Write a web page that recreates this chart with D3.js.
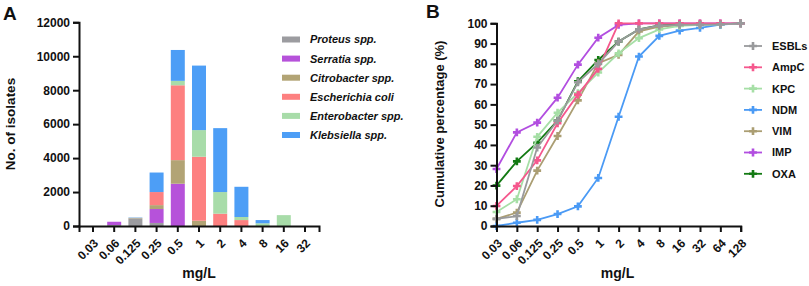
<!DOCTYPE html>
<html><head><meta charset="utf-8">
<script src="https://cdn.jsdelivr.net/npm/d3@7/dist/d3.min.js"></script>
<style>
body{margin:0;background:#fff}
svg{display:block}
text{font-family:"Liberation Sans",Arial,Helvetica,sans-serif;font-weight:bold;fill:#111}
</style>
</head><body>
<svg id="c" width="809" height="286"></svg>
<script>
// ---------- Panel A data ----------
const micA = ["0.03","0.06","0.125","0.25","0.5","1","2","4","8","16","32"];
const speciesNames = ["Proteus spp.","Serratia spp.","Citrobacter spp.","Escherichia coli","Enterobacter spp.","Klebsiella spp."];
const speciesColors = ["#9c9ca0","#b652da","#b2a475","#fd8080","#a8dca9","#4d9ef6"];
const proteus     = [0, 60, 450, 180,    0,    0,    0,    0,   0,   0, 0];
const serratia    = [0,190,   0, 820, 2490,    0,    0,    0,   0,   0, 0];
const citrobacter = [0,  0,  30, 230, 1390,  310,    0,    0,   0,   0, 0];
const ecoli       = [0,  0,   0, 770, 4410, 3770,  725,  350,   0,   0, 0];
const enterobacter= [0,  0,   0,   0,  260, 1570, 1275,  180, 160, 640, 0];
const klebsiella  = [0,  0,  20,1150, 1820, 3800, 3765, 1780, 190,   0, 0];
const yTicksA = [0,2000,4000,6000,8000,10000,12000];

// ---------- Panel B data ----------
const micB = ["0.03","0.06","0.125","0.25","0.5","1","2","4","8","16","32","64","128"];
const groupNames = ["ESBLs","AmpC","KPC","NDM","VIM","IMP","OXA"];
const groupColors = ["#999a9c","#f5588d","#a6dfa6","#4a9af5","#ab9e73","#b24ee0","#137a13"];
const esbls = [3.5, 4.9, 38.7, 52.0, 70.9, 80.0, 91.0, 97.0, 98.8, 99.2, 99.3, 99.5, 100];
const ampc  = [9.9, 19.7, 32.4, 50.7, 64.8, 77.5, 100, 100, 100, 100, 100, 100, 100];
const kpc   = [6.9, 13.2, 44.0, 55.9, 65.5, 75.7, 85.2, 92.7, 97.0, 98.7, 99.2, 99.5, 100];
const ndm   = [0.0, 1.6, 3.0, 5.9, 9.7, 23.7, 53.9, 83.6, 93.8, 96.4, 97.7, 99.3, 100];
const vim   = [3.5, 6.6, 27.3, 44.4, 62.0, 80.3, 84.4, 96.0, 98.4, 99.0, 99.5, 99.5, 100];
const imp   = [28.1, 46.2, 51.0, 63.3, 79.6, 92.9, 99.2, 100, 100, 100, 100, 100, 100];
const oxa   = [19.9, 31.9, 41.1, 52.0, 71.4, 81.9, 91.0, 97.0, 99.0, 99.5, 99.5, 99.5, 100];
const yTicksB = [0,10,20,30,40,50,60,70,80,90,100];

const svg = d3.select("#c");

function styleAxis(g){
  g.select(".domain").attr("stroke","#111").attr("stroke-width",2);
  g.selectAll(".tick line").attr("stroke","#111").attr("stroke-width",2);
  g.selectAll(".tick text").style("font-size","12px").style("font-weight","bold").attr("fill","#111");
}
function rotateLabels(g){
  g.selectAll(".tick text").attr("text-anchor","end")
    .attr("x",0).attr("y",0).attr("dy","0.35em").attr("dx",0)
    .attr("transform","translate(3,15) rotate(-45)");
}

// ================= Panel A =================
const seriesA = [proteus, serratia, citrobacter, ecoli, enterobacter, klebsiella];
const rowsA = micA.map((m,i)=>{const o={mic:m}; speciesNames.forEach((s,k)=>o[s]=seriesA[k][i]); return o;});
const stackA = d3.stack().keys(speciesNames)(rowsA);

const xA = d3.scaleBand().domain(micA).range([79,319]).paddingInner(0.34).paddingOuter(0.33);
const yA = d3.scaleLinear().domain([0,12000]).range([226,22.3]);

const gA = svg.append("g");
gA.selectAll("g.layer").data(stackA).join("g").attr("class","layer")
  .attr("fill",(d,i)=>speciesColors[i])
  .selectAll("rect").data(d=>d).join("rect")
  .attr("x",d=>xA(d.data.mic))
  .attr("width",xA.bandwidth())
  .attr("y",d=>yA(d[1]))
  .attr("height",d=>Math.max(0,yA(d[0])-yA(d[1])));

const axYA = gA.append("g").attr("transform","translate(79,0)")
  .call(d3.axisLeft(yA).tickValues(yTicksA).tickFormat(d3.format("d")).tickSizeOuter(0).tickSize(6).tickPadding(3));
styleAxis(axYA);
const axXA = gA.append("g").attr("transform","translate(0,226)")
  .call(d3.axisBottom(xA).tickSizeOuter(0).tickSize(6));
styleAxis(axXA);
rotateLabels(axXA);

svg.append("text").attr("x",3).attr("y",20).style("font-size","19px").text("A");
svg.append("text").attr("transform","translate(15,124) rotate(-90)").attr("text-anchor","middle")
  .style("font-size","13.5px").text("No. of isolates");
svg.append("text").attr("x",199).attr("y",278).attr("text-anchor","middle").style("font-size","14px").text("mg/L");

// legend A
const legA = svg.append("g");
speciesNames.forEach((s,i)=>{
  const y = 39.5 + i*19.1;
  legA.append("rect").attr("x",282).attr("y",y-3).attr("width",18).attr("height",6).attr("fill",speciesColors[i]);
  legA.append("text").attr("x",310).attr("y",y).attr("dy","0.36em").style("font-size","11px")
    .style("font-style","italic").text(s);
});

// ================= Panel B =================
const seriesB = [esbls, ampc, kpc, ndm, vim, imp, oxa];
const xB = d3.scalePoint().domain(micB).range([496.5,740.7]);
const yB = d3.scaleLinear().domain([0,100]).range([226,23.3]);
const gB = svg.append("g");

const line = d3.line().x(d=>xB(d.mic)).y(d=>yB(d.v));
const sym = d3.symbol().type(d3.symbolCross).size(34);
const order = [6,5,4,3,2,1,0];
order.forEach(k=>{
  const pts = micB.map((m,i)=>({mic:m,v:seriesB[k][i]}));
  const g = gB.append("g");
  g.append("path").datum(pts).attr("d",line).attr("fill","none")
    .attr("stroke",groupColors[k]).attr("stroke-width",1.8);
  g.selectAll("path.m").data(pts).join("path").attr("class","m")
    .attr("d",sym).attr("transform",d=>`translate(${xB(d.mic)},${yB(d.v)})`)
    .attr("fill",groupColors[k]);
});

const axYB = gB.append("g").attr("transform","translate(496.5,0)")
  .call(d3.axisLeft(yB).tickValues(yTicksB).tickSizeOuter(0).tickSize(6).tickPadding(3));
styleAxis(axYB);
const axXB = gB.append("g").attr("transform","translate(0,226)")
  .call(d3.axisBottom(xB).tickSizeOuter(0).tickSize(6));
styleAxis(axXB);
rotateLabels(axXB);

svg.append("text").attr("x",426).attr("y",18).style("font-size","19px").text("B");
svg.append("text").attr("transform","translate(444,124) rotate(-90)").attr("text-anchor","middle")
  .style("font-size","13px").text("Cumulative percentage (%)");
svg.append("text").attr("x",617.5).attr("y",278).attr("text-anchor","middle").style("font-size","14px").text("mg/L");

// legend B
const legB = svg.append("g");
groupNames.forEach((s,i)=>{
  const y = 46 + i*21.3;
  legB.append("line").attr("x1",744).attr("x2",762).attr("y1",y).attr("y2",y)
    .attr("stroke",groupColors[i]).attr("stroke-width",1.8);
  legB.append("path").attr("d",sym).attr("transform",`translate(753,${y})`).attr("fill",groupColors[i]);
  legB.append("text").attr("x",772).attr("y",y).attr("dy","0.36em").style("font-size","11px").text(s);
});
</script>
</body></html>
